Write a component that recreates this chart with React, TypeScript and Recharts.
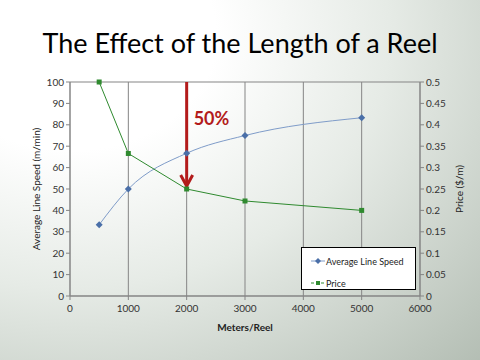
import React from 'react';
import {
  ComposedChart,
  Line,
  XAxis,
  YAxis,
  CartesianGrid,
  ReferenceLine,
} from 'recharts';

const meters = [500, 1000, 2000, 3000, 5000];
const lineSpeed = [33.3, 50, 66.7, 75, 83.3];
const price = [0.5, 0.333, 0.25, 0.222, 0.2];

const xTicks = [0, 1000, 2000, 3000, 4000, 5000, 6000];
const speedTicks = [0, 10, 20, 30, 40, 50, 60, 70, 80, 90, 100];
const priceTicks = [0, 0.05, 0.1, 0.15, 0.2, 0.25, 0.3, 0.35, 0.4, 0.45, 0.5];

const data = meters.map((m, i) => ({ meters: m, speed: lineSpeed[i], price: price[i] }));

const BLUE = '#4a6fa8';
const BLUE_LINE = '#7f9cc9';
const GREEN = '#2f8a2f';
const RED = '#b31b1b';
const FONT = 'Lato, "Open Sans", sans-serif';

const Diamond = (props: any) => {
  const { cx, cy } = props;
  if (cx == null || cy == null) return null;
  return <path d={`M${cx},${cy - 3.5}L${cx + 3.5},${cy}L${cx},${cy + 3.5}L${cx - 3.5},${cy}Z`} fill={BLUE} />;
};

const Square = (props: any) => {
  const { cx, cy } = props;
  if (cx == null || cy == null) return null;
  return <rect x={cx - 2.5} y={cy - 2.5} width={5} height={5} fill={GREEN} />;
};

const Arrow = (props: any) => {
  const { x1, y1, x2, y2 } = props;
  if (x1 == null) return null;
  return (
    <g>
      <line x1={x1} y1={y1} x2={x2} y2={y2 - 3} stroke={RED} strokeWidth={3} />
      <polyline
        points={`${x2 - 6},${y2 - 14} ${x2},${y2 - 3} ${x2 + 6},${y2 - 14}`}
        fill="none"
        stroke={RED}
        strokeWidth={3}
      />
      <text x={x1 + 7} y={y1 + 43} fill={RED} fontSize={18} fontWeight="bold" fontFamily={FONT}>
        50%
      </text>
    </g>
  );
};

const LegendBox = () => (
  <div
    style={{
      position: 'absolute',
      left: 301,
      top: 247,
      width: 115,
      height: 43,
      background: '#fff',
      border: '1px solid #000',
      fontFamily: FONT,
      fontSize: 9,
      color: '#222',
      padding: '7px 0 0 9px',
      boxSizing: 'border-box',
    }}
  >
    <div style={{ display: 'flex', alignItems: 'center', height: 12 }}>
      <svg width={14} height={8}>
        <line x1={0} y1={4} x2={14} y2={4} stroke={BLUE_LINE} strokeWidth={1} />
        <path d="M7,1L10,4L7,7L4,4Z" fill={BLUE} />
      </svg>
      <span style={{ marginLeft: 1 }}>Average Line Speed</span>
    </div>
    <div style={{ display: 'flex', alignItems: 'center', height: 12, marginTop: 10 }}>
      <svg width={14} height={8}>
        <line x1={0} y1={4} x2={14} y2={4} stroke={GREEN} strokeWidth={1} strokeDasharray="3 2" />
        <rect x={5} y={2} width={4} height={4} fill={GREEN} />
      </svg>
      <span style={{ marginLeft: 1 }}>Price</span>
    </div>
  </div>
);

const tickStyle = { fontSize: 10, fill: '#333', fontFamily: FONT };

export default function App() {
  return (
    <div
      style={{
        position: 'absolute',
        left: 0,
        top: 0,
        width: 480,
        height: 360,
        overflow: 'hidden',
        background: 'radial-gradient(ellipse at 15% 10%, #ffffff 25%, #e6ebe6 55%, #a9b4a9 110%)',
      }}
    >
      <div
        style={{
          position: 'absolute',
          top: 26,
          left: 0,
          width: 480,
          textAlign: 'center',
          fontFamily: FONT,
          fontSize: 27,
          color: '#000',
        }}
      >
        The Effect of the Length of a Reel
      </div>
      <ComposedChart
        width={480}
        height={360}
        data={data}
        margin={{ top: 82, right: 20, bottom: 34, left: 20 }}
        style={{ position: 'absolute', left: 0, top: 0 }}
      >
        <CartesianGrid stroke="#858585" strokeWidth={1} verticalValues={xTicks} />
        <XAxis
          dataKey="meters"
          type="number"
          domain={[0, 6000]}
          ticks={xTicks}
          tick={{ ...tickStyle, dy: 3 }}
          stroke="#858585"
          tickSize={4}
          height={30}
          interval={0}
        />
        <YAxis
          yAxisId="speed"
          domain={[0, 100]}
          ticks={speedTicks}
          tick={tickStyle}
          stroke="#858585"
          tickSize={4}
          width={50}
          interval={0}
        />
        <YAxis
          yAxisId="price"
          orientation="right"
          domain={[0, 0.5]}
          ticks={priceTicks}
          tick={tickStyle}
          stroke="#858585"
          tickSize={4}
          width={40}
          interval={0}
        />
        <Line
          yAxisId="speed"
          dataKey="speed"
          type="monotone"
          stroke={BLUE_LINE}
          strokeWidth={1}
          dot={<Diamond />}
          isAnimationActive={false}
          name="Average Line Speed"
        />
        <Line
          yAxisId="price"
          dataKey="price"
          type="linear"
          stroke={GREEN}
          strokeWidth={1}
          dot={<Square />}
          isAnimationActive={false}
          name="Price"
        />
        <ReferenceLine
          yAxisId="speed"
          segment={[
            { x: 2000, y: 100 },
            { x: 2000, y: 50 },
          ]}
          shape={<Arrow />}
        />
      </ComposedChart>
      <LegendBox />
      <div
        style={{
          position: 'absolute',
          left: 36,
          top: 189,
          transform: 'translate(-50%, -50%) rotate(-90deg)',
          whiteSpace: 'nowrap',
          fontFamily: FONT,
          fontSize: 10,
          color: '#222',
        }}
      >
        Average Line Speed (m/min)
      </div>
      <div
        style={{
          position: 'absolute',
          left: 459,
          top: 189,
          transform: 'translate(-50%, -50%) rotate(-90deg)',
          whiteSpace: 'nowrap',
          fontFamily: FONT,
          fontSize: 10,
          color: '#222',
        }}
      >
        Price ($/m)
      </div>
      <div
        style={{
          position: 'absolute',
          left: 245,
          top: 327,
          transform: 'translate(-50%, -50%)',
          whiteSpace: 'nowrap',
          fontFamily: FONT,
          fontSize: 10,
          fontWeight: 'bold',
          color: '#222',
        }}
      >
        Meters/Reel
      </div>
    </div>
  );
}
